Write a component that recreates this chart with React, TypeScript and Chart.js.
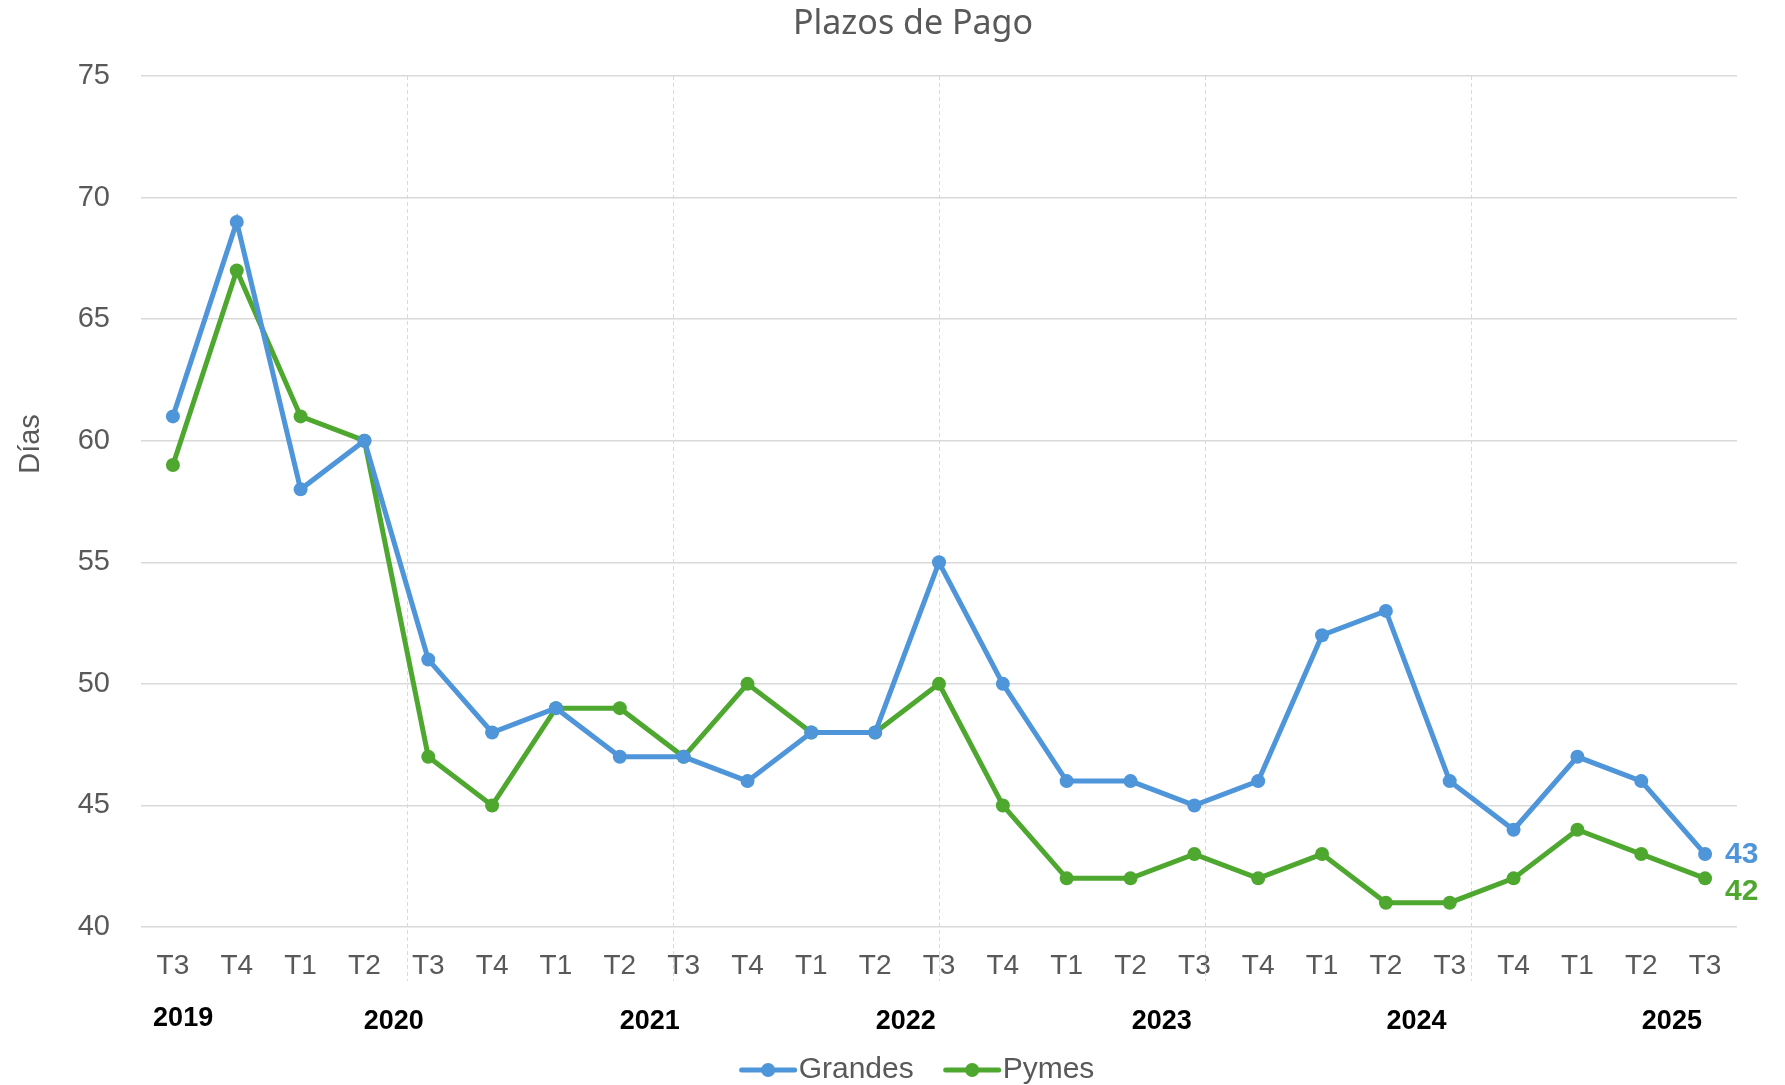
import React, { useEffect, useRef } from 'react';
import { Chart, registerables } from 'chart.js';

Chart.register(...registerables);

const quarterLabels = ['T3', 'T4', 'T1', 'T2', 'T3', 'T4', 'T1', 'T2', 'T3', 'T4', 'T1', 'T2', 'T3', 'T4', 'T1', 'T2', 'T3', 'T4', 'T1', 'T2', 'T3', 'T4', 'T1', 'T2', 'T3'];
const grandes = [61, 69, 58, 60, 51, 48, 49, 47, 47, 46, 48, 48, 55, 50, 46, 46, 45, 46, 52, 53, 46, 44, 47, 46, 43];
const pymes = [59, 67, 61, 60, 47, 45, 49, 49, 47, 50, 48, 48, 50, 45, 42, 42, 43, 42, 43, 41, 41, 42, 44, 43, 42];
const yearLabels = ['2019', '2020', '2021', '2022', '2023', '2024', '2025'];
const yearLabelIndex = [0.16, 3.46, 7.47, 11.48, 15.49, 19.48, 23.48];
const seriesNames = ['Grandes', 'Pymes'];
const seriesColors = ['#4E95D9', '#4EA72E'];
const endLabelShift = [1, 13];
const chartTitle = 'Plazos de Pago';
const axisTitle = 'Días';

const GRAY = '#595959';
const GRID = '#D9D9D9';
const SANS = '"Liberation Sans", Arial, sans-serif';

const decorPlugin = {
  id: 'decor',
  beforeDatasetsDraw(chart: any) {
    const { ctx, chartArea: a } = chart;
    ctx.save();
    ctx.strokeStyle = GRID;
    ctx.lineWidth = 1;
    ctx.setLineDash([4, 3]);
    for (let k = 1; k < 6; k++) {
      const x = Math.round(a.left + ((a.right - a.left) * k) / 6) + 0.5;
      ctx.beginPath();
      ctx.moveTo(x, a.top);
      ctx.lineTo(x, a.bottom + 54);
      ctx.stroke();
    }
    ctx.restore();
  },
  afterDraw(chart: any) {
    const { ctx } = chart;
    const xs = chart.scales.x;
    ctx.save();
    // title
    ctx.fillStyle = GRAY;
    ctx.font = `34px "Noto Sans", sans-serif`;
    ctx.textAlign = 'center';
    ctx.textBaseline = 'middle';
    ctx.fillText(chartTitle, 913, 24);
    // year labels
    ctx.fillStyle = '#000000';
    ctx.font = `bold 27px ${SANS}`;
    yearLabels.forEach((y, i) => {
      const x = xs.getPixelForValue(yearLabelIndex[i]);
      ctx.fillText(y, x, i === 0 ? 1019 : 1022);
    });
    // y axis title
    ctx.save();
    ctx.translate(31, 444);
    ctx.rotate(-Math.PI / 2);
    ctx.fillStyle = GRAY;
    ctx.font = `29px ${SANS}`;
    ctx.textAlign = 'center';
    ctx.textBaseline = 'middle';
    ctx.fillText(axisTitle, 0, 0);
    ctx.restore();
    // end labels
    ctx.font = `bold 30px ${SANS}`;
    ctx.textAlign = 'left';
    ctx.textBaseline = 'middle';
    chart.data.datasets.forEach((ds: any, i: number) => {
      const meta = chart.getDatasetMeta(i);
      const pt = meta.data[meta.data.length - 1];
      ctx.fillStyle = seriesColors[i];
      ctx.fillText(String(ds.data[ds.data.length - 1]), pt.x + 20, pt.y + endLabelShift[i]);
    });
    // legend
    ctx.font = `30px ${SANS}`;
    const lineLen = 57;
    const gapText = 2;
    const gapItem = 30;
    const widths = seriesNames.map((n) => ctx.measureText(n).width);
    const total = widths.reduce((s, w) => s + lineLen + gapText + w, 0) + gapItem * (seriesNames.length - 1);
    let x = 917 - total / 2;
    const ly = 1070;
    seriesNames.forEach((n, i) => {
      ctx.strokeStyle = seriesColors[i];
      ctx.fillStyle = seriesColors[i];
      ctx.lineWidth = 5;
      ctx.lineCap = 'round';
      ctx.beginPath();
      ctx.moveTo(x + 2, ly);
      ctx.lineTo(x + lineLen - 2, ly);
      ctx.stroke();
      ctx.beginPath();
      ctx.arc(x + lineLen / 2, ly, 7, 0, Math.PI * 2);
      ctx.fill();
      ctx.fillStyle = GRAY;
      ctx.textAlign = 'left';
      ctx.fillText(n, x + lineLen + gapText, ly);
      x += lineLen + gapText + widths[i] + gapItem;
    });
    ctx.restore();
  },
};

export default function App() {
  const ref = useRef<HTMLCanvasElement>(null);
  useEffect(() => {
    if (!ref.current) return;
    const chart = new Chart(ref.current, {
      type: 'line',
      data: {
        labels: quarterLabels,
        datasets: [grandes, pymes].map((d, i) => ({
          label: seriesNames[i],
          data: d,
          borderColor: seriesColors[i],
          backgroundColor: seriesColors[i],
          borderWidth: 5,
          pointRadius: 7,
          pointBorderWidth: 0,
          pointBackgroundColor: seriesColors[i],
          tension: 0,
          fill: false,
        })),
      },
      options: {
        animation: false,
        responsive: true,
        maintainAspectRatio: false,
        layout: { padding: { left: 0, right: 48, top: 76, bottom: 0 } },
        plugins: {
          legend: { display: false },
          tooltip: { enabled: false },
          title: { display: false },
        },
        scales: {
          x: {
            type: 'category',
            offset: true,
            grid: { display: false, drawTicks: false },
            border: { display: false },
            ticks: {
              color: GRAY,
              font: { family: SANS, size: 28 },
              padding: 22,
              maxRotation: 0,
              autoSkip: false,
            },
            afterFit: (s: any) => {
              s.height = 158;
            },
          },
          y: {
            min: 40,
            max: 75,
            grid: { color: GRID, lineWidth: 1.5, drawTicks: false },
            border: { display: false },
            ticks: {
              stepSize: 5,
              color: GRAY,
              font: { family: SANS, size: 29 },
              padding: 31,
            },
            afterFit: (s: any) => {
              s.width = 141;
            },
          },
        },
      },
      plugins: [decorPlugin],
    });
    return () => chart.destroy();
  }, []);
  return (
    <div style={{ position: 'fixed', left: 0, top: 0, width: 1785, height: 1085, background: '#fff' }}>
      <canvas ref={ref} />
    </div>
  );
}
